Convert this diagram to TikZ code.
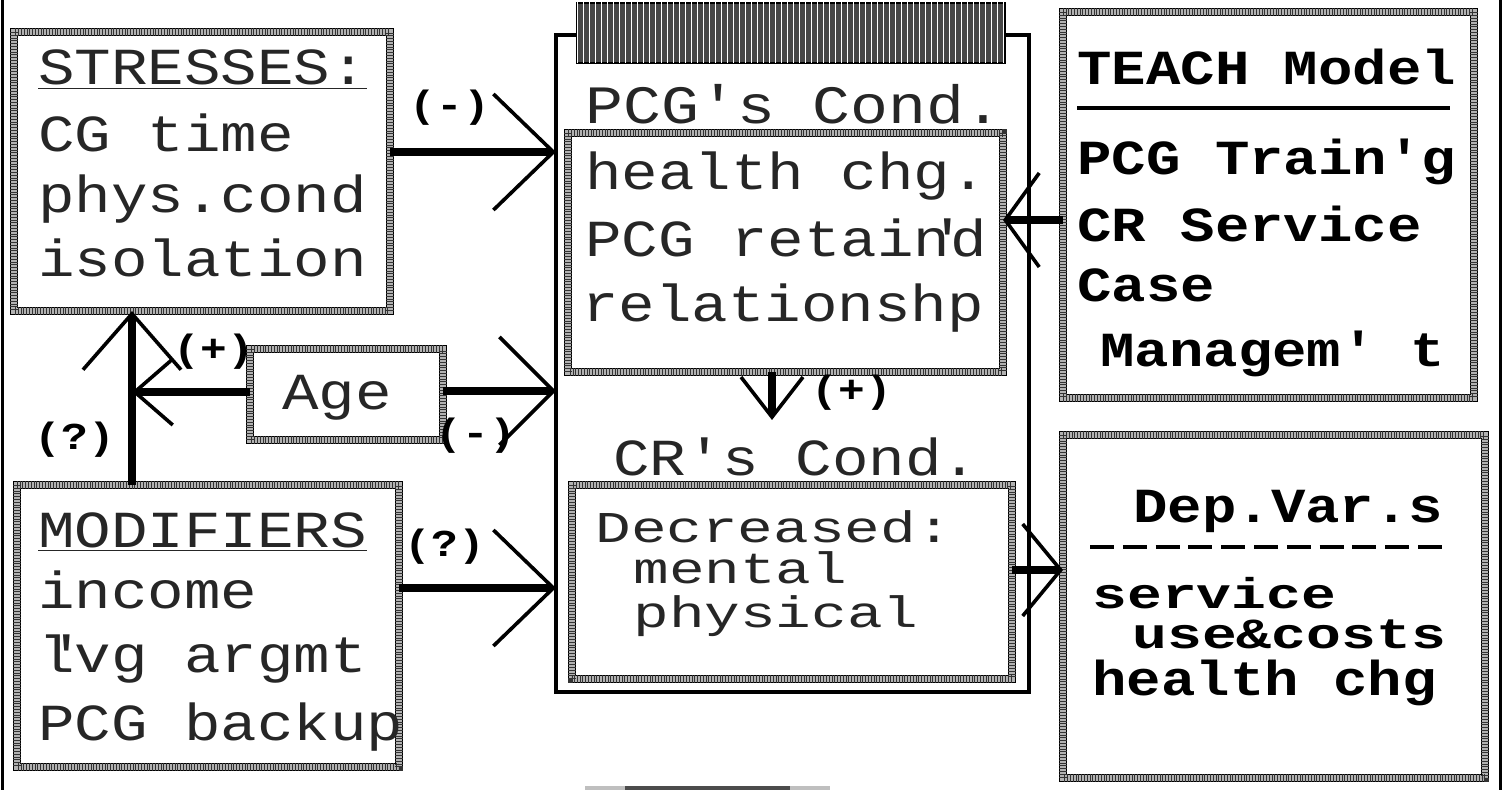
\documentclass[tikz,border=0pt]{standalone}
\usepackage{fontspec}
\newfontfamily\dm{Liberation Mono}[FakeStretch=1.17]
\newfontfamily\dmw{Liberation Mono}[FakeStretch=1.35]
\usetikzlibrary{arrows.meta,fit,patterns}
\tikzset{
  BarbA/.tip={Straight Barb[length=30pt,width=58pt,line width=1.8pt]},
  BarbUp/.tip={Straight Barb[length=28pt,width=49pt,line width=1.8pt]},
  BarbAge/.tip={Straight Barb[length=19pt,width=33pt,line width=1.8pt]},
  BarbAgeR/.tip={Straight Barb[length=27pt,width=54pt,line width=1.8pt]},
  BarbT/.tip={Straight Barb[length=17pt,width=47pt,line width=1.8pt]},
  BarbD/.tip={Straight Barb[length=19pt,width=46pt,line width=1.8pt]},
  BarbDown/.tip={Straight Barb[length=20pt,width=31pt,line width=1.8pt]},
}
\begin{document}
\begin{tikzpicture}[x=0.5pt,y=-0.5pt,
  hbox/.style={draw=black, line width=0.7pt, double=black!30, double distance=3pt, inner sep=0pt, outer sep=0pt},
  ticks/.style={draw=black!80, line width=4.4pt, dash pattern=on 0.5pt off 0.9pt},
  hl/.style={anchor=base west, inner sep=0pt, text=black!85, font=\dm\fontsize{26}{26}\selectfont},
  hlbig/.style={hl, font=\dm\fontsize{27}{27}\selectfont},
  hlsq/.style={hl, font=\dmw\fontsize{22}{22}\selectfont},
  bl/.style={anchor=base west, inner sep=0pt, text=black, font=\dm\bfseries\fontsize{24.5}{24.5}\selectfont},
  blsq/.style={bl, font=\dmw\bfseries\fontsize{21.5}{21.5}\selectfont},
  lab/.style={inner sep=0pt, font=\dm\bfseries\fontsize{19}{19}\selectfont},
  conn/.style={line width=4pt},
  ]
\useasboundingbox (0,0) rectangle (1503,790);
% frame lines
\draw[line width=1.5pt] (2,0) -- (2,790);
\draw[line width=1.5pt] (1500,0) -- (1500,790);
\fill[black!25] (585,786) rectangle (830,790);
\fill[black!70] (625,786) rectangle (790,790);

% boxes
\node[hbox, fit={(14,32) (390,311)}] (stress) {};
\node[hbox, fit={(17,485) (399,767)}] (mod) {};
\node[hbox, fit={(250,349) (443,440)}] (age) {};
\node[draw=black, line width=2pt, inner sep=0pt, outer sep=0pt, fit={(556,35) (1029,692)}] (outer) {};
\node[draw=black, line width=1pt, fill=black!72, inner sep=0pt, outer sep=0pt, fit={(577,3) (1005,63)},
      postaction={pattern=vertical lines, pattern color=white}] (tab) {};
\node[hbox, fit={(568,133) (1003,372)}] (box1) {};
\node[hbox, fit={(572,485) (1012,679)}] (box2) {};
\node[hbox, fit={(1063,12) (1474,398)}] (teach) {};
\node[hbox, fit={(1063,435) (1485,778)}] (dep) {};
\foreach \n in {stress,mod,age,box1,box2,teach,dep}
  \draw[ticks] (\n.north west) rectangle (\n.south east);

% texts
\node[hl] (s1) at (38,85) {\underline{STRESSES:}};
\node[hl] (s2) at (38,152) {CG time};
\node[hl] (s3) at (38,213) {phys.cond};
\node[hl] (s4) at (38,277) {isolation};

\node[hl] (m1) at (38,547) {\underline{MODIFIERS}};
\node[hl] (m2) at (38,608) {income};
\node[hl] (m3) at (38,672) {l\llap{'\kern-0.2em}vg argmt};
\node[hl] (m4) at (38,740) {PCG backup};

\node[hl] (a1) at (282,410) {Age};

\node[hlbig] (c0) at (585,124) {PCG's Cond.};
\node[hl] (c1) at (585,190) {health chg.};
\node[hl] (c2) at (585,257) {PCG retain\llap{'\kern-0.3em}d};
\node[hl] (c3) at (582,322) {relationshp};
\node[hl] (c4) at (613,475) {CR's Cond.};
\node[hlsq] (c5) at (595,542) {Decreased:};
\node[hlsq] (c6) at (633,583) {mental};
\node[hlsq] (c7) at (633,627) {physical};

\node[bl] (t1) at (1077,85) {TEACH Model};
\draw[line width=2pt] (1077,108) -- (1450,108);
\node[bl] (t2) at (1077,175) {PCG Train'g};
\node[bl] (t3) at (1077,242) {CR Service};
\node[bl] (t4) at (1077,302) {Case};
\node[bl] (t5) at (1100,367) {Managem' t};

\node[bl] (d1) at (1133,523) {Dep.Var.s};
\draw[line width=2.2pt, dash pattern=on 12pt off 4.4pt] (1090,547) -- (1450,547);
\node[blsq] (d2) at (1092,608) {service};
\node[blsq] (d3) at (1132,648) {use\&costs};
\node[bl] (d4) at (1092,695) {health chg};

% labels
\node[lab] (l1) at (450,108) {(-)};
\node[lab] (l2) at (214,352) {(+)};
\node[lab] (l3) at (75,440) {(?)};
\node[lab] (l4) at (476,436) {(-)};
\node[lab] (l5) at (445,547) {(?)};
\node[lab] (l6) at (852,393) {(+)};

% connectors
\coordinate (vx) at (132,392);
\coordinate (dtip) at (772,420);
\draw[conn, -BarbA] (stress.east |- 0,152) -- (outer.west |- 0,152);
\draw[conn, -BarbA] (mod.east |- 0,588) -- (outer.west |- 0,588);
\draw[conn, -BarbAgeR] (age.east |- 0,391) -- (outer.west |- 0,391);
\draw[conn, -BarbUp] (mod.north -| 132,0) -- (stress.south -| 132,0);
\draw[conn, -BarbAge] (age.west |- 0,392) -- (vx);
\draw[conn, -BarbT] (teach.west |- 0,220) -- (box1.east |- 0,220);
\draw[conn, -BarbDown] (box1.south -| 772,0) -- (dtip);
\draw[conn, -BarbD] (box2.east |- 0,570) -- (dep.west |- 0,570);
\end{tikzpicture}
\end{document}
